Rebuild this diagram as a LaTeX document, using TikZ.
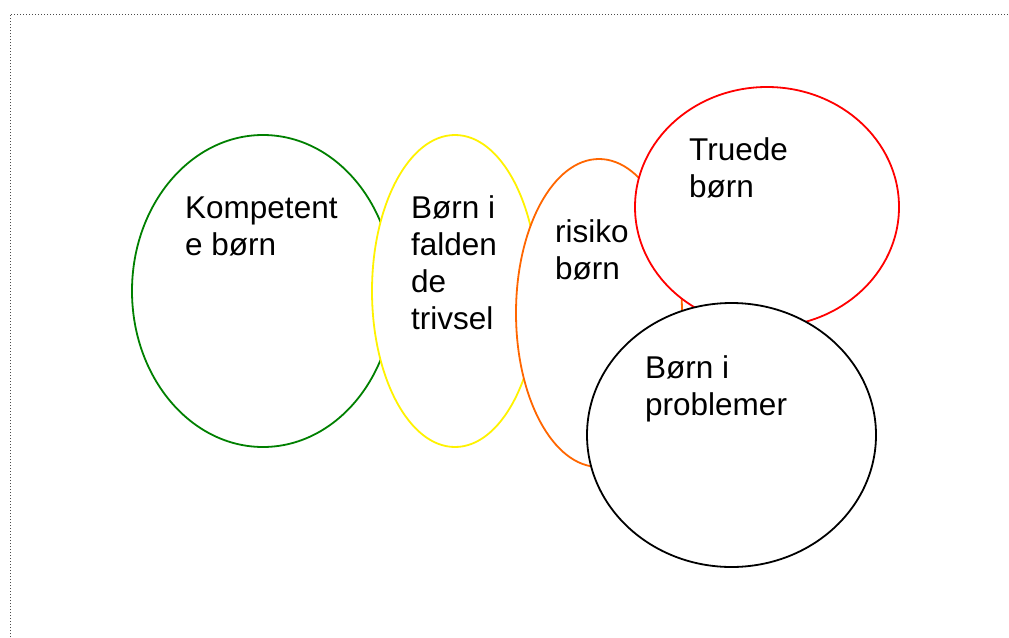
\documentclass[tikz,border=0pt]{standalone}
\usepackage{fontspec}
\setmainfont{Liberation Sans}
\usepackage{xcolor}
\usepackage{tikz}
\usetikzlibrary{shapes.geometric}
\definecolor{verde}{RGB}{0,128,0}
\definecolor{arancio}{RGB}{255,102,0}

\begin{document}
\begin{tikzpicture}[x=1pt,y=-1pt,
    cerchio/.style={ellipse, draw=#1, line width=1.8pt, fill=white, inner sep=0pt},
    testo/.style={anchor=base west, align=left, inner sep=0pt, font=\fontsize{31.5}{37}\selectfont}]
        \useasboundingbox (0,0) rectangle (1009,637);
        % Cornice
        \draw[dotted, line width=1pt, black!70] (10,637) -- (10,14) -- (1009,14);

        % Ellissi
        \node[cerchio=verde, minimum width=262pt, minimum height=312pt] (kompetente) at (263,291) {};
        \node[cerchio=yellow, minimum width=166pt, minimum height=312pt] (faldende) at (455,291) {};
        \node[cerchio=arancio, minimum width=166pt, minimum height=308pt] (risiko) at (599,313) {};
        \node[cerchio=red, minimum width=264pt, minimum height=240pt] (truede) at (767,207) {};
        \node[cerchio=black, minimum width=289pt, minimum height=264pt] (problemer) at (731.5,435) {};

        % Testi (base = ultima riga)
        \node[testo] (kompetenteTxt) at (185,255) {Kompetent\\e børn};
        \node[testo] (faldendeTxt) at (411,329) {Børn i\\falden\\de\\trivsel};
        \node[testo] (risikoTxt) at (555,279) {risiko\\børn};
        \node[testo] (truedeTxt) at (689,197) {Truede\\børn};
        \node[testo] (problemerTxt) at (645,415) {Børn i\\problemer};
    \end{tikzpicture}
\end{document}
